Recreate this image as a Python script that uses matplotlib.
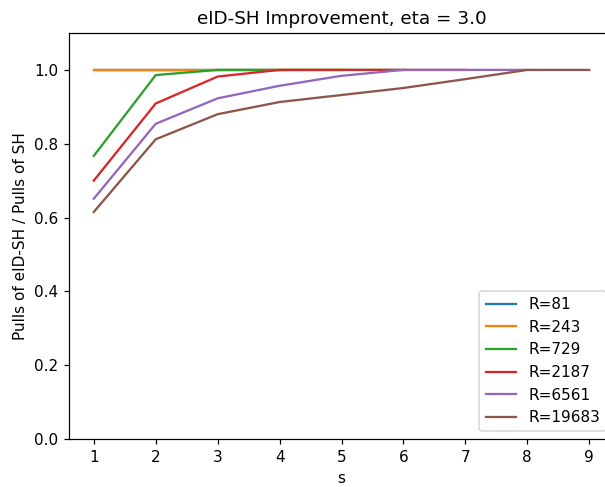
import matplotlib
matplotlib.use('Agg')
import matplotlib.pyplot as plt

eta = 3.0
R_values = [81, 243, 729, 2187, 6561, 19683]

# ratio of pulls per s, one list per R (s starts at 1)
ratio_81 = [1.0, 1.0, 1.0, 1.0]
ratio_243 = [1.0, 1.0, 1.0, 1.0, 1.0]
ratio_729 = [0.767, 0.986, 1.0, 1.0, 1.0, 1.0]
ratio_2187 = [0.700, 0.909, 0.982, 1.0, 1.0, 1.0, 1.0]
ratio_6561 = [0.651, 0.854, 0.923, 0.957, 0.984, 1.0, 1.0, 1.0]
ratio_19683 = [0.615, 0.812, 0.880, 0.913, 0.932, 0.951, 0.975, 1.0, 1.0]

ratios = [ratio_81, ratio_243, ratio_729, ratio_2187, ratio_6561, ratio_19683]

dpi = 110
fig = plt.figure(figsize=(605 / dpi, 487 / dpi), dpi=dpi)
ax = fig.add_axes([69 / 605, 48 / 487, 545 / 605, 406 / 487])

for R, r in zip(R_values, ratios):
    s = list(range(1, len(r) + 1))
    ax.plot(s, r, label='R=%d' % R)

ax.set_ylim(0, 1.1)
ax.set_xticks(range(1, 10))
ax.set_title('eID-SH Improvement, eta = %s' % eta)
ax.set_xlabel('s')
ax.set_ylabel('Pulls of eID-SH / Pulls of SH')
ax.legend(loc='lower right')

fig.savefig('out.png', dpi=dpi)
